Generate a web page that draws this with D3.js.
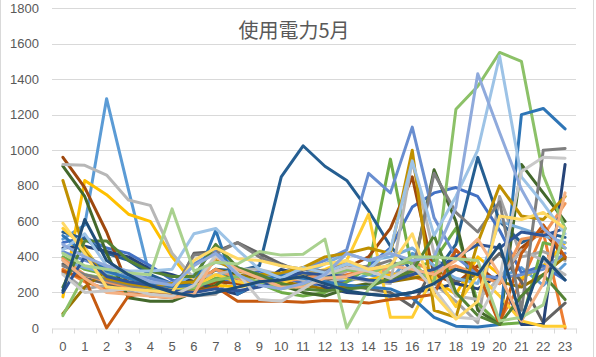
<!DOCTYPE html>
<html><head><meta charset="utf-8">
<script src="https://cdnjs.cloudflare.com/ajax/libs/d3/7.8.5/d3.min.js"></script>
<style>html,body{margin:0;padding:0;background:#fff;}svg{display:block;}</style>
</head><body><div id="chart"></div>
<script>
const title = "使用電力5月";
const hours = d3.range(24).map(String);
const yTicks = [0,200,400,600,800,1000,1200,1400,1600,1800];
const colors = ["#5B9BD5","#ED7D31","#A5A5A5","#FFC000","#4472C4","#70AD47","#255E91","#9E480E","#636363","#997300","#264478","#43682B","#7CAFDD","#F1975A","#B7B7B7","#FFCD33","#698ED0","#8CC168","#2E75B6","#C55A11","#7F7F7F","#BF9000","#2F5597","#548235","#9DC3E6","#F4B183","#C9C9C9","#FFD966","#8FAADC","#A9D18E","#1F4E79"];
const d01 = [500,580,1290,780,280,240,230,330,260,250,230,240,280,260,300,270,420,380,330,300,280,340,240,360];
const d02 = [330,260,220,200,190,180,220,260,280,250,230,250,270,300,330,310,290,250,440,300,40,260,540,0];
const d03 = [310,220,240,210,200,190,180,190,320,300,280,260,270,320,350,300,330,250,150,30,740,400,430,380];
const d04 = [175,830,750,640,600,400,250,240,230,250,260,290,300,280,270,300,310,270,190,400,300,280,350,480];
const d05 = [480,510,450,420,350,270,230,260,280,320,290,250,240,260,350,450,680,760,790,740,550,310,350,270];
const d06 = [400,330,300,260,230,220,220,280,300,250,200,180,200,260,340,950,330,380,560,140,20,30,480,450];
const d07 = [540,500,420,380,300,250,250,330,320,350,850,1025,910,830,660,460,320,300,470,960,600,480,540,510];
const d08 = [960,790,540,230,180,170,200,260,250,240,250,300,320,340,400,560,850,300,250,350,250,450,550,390];
const d09 = [360,280,250,220,190,180,420,430,480,420,360,310,280,240,220,200,120,350,260,300,420,260,30,140];
const d10 = [80,230,320,280,250,220,240,330,300,280,260,240,220,230,250,260,280,300,330,290,260,230,300,400];
const d11 = [450,460,430,400,330,300,260,220,190,250,330,300,230,200,190,180,200,220,250,220,300,20,20,920];
const d12 = [910,740,420,170,150,150,200,240,330,290,240,200,180,220,250,280,300,890,600,100,20,920,760,600];
const d13 = [380,340,310,290,260,240,300,370,340,300,280,300,360,420,380,400,450,350,280,250,600,560,520,480];
const d14 = [390,300,260,230,200,190,250,330,280,250,260,280,300,330,310,340,380,310,350,300,250,500,520,700];
const d15 = [920,915,860,720,690,420,280,300,330,330,300,270,250,290,260,250,940,420,180,160,280,440,380,300];
const d16 = [560,450,280,240,230,220,230,300,260,240,250,300,330,380,640,60,60,300,120,300,180,40,10,10];
const d17 = [430,380,340,300,280,250,360,430,330,280,300,330,380,440,870,760,1130,620,400,300,280,300,330,420];
const d18 = [70,300,280,240,220,200,230,270,290,260,220,240,290,330,300,360,370,250,1230,1360,1550,1500,860,560];
const d19 = [520,420,320,280,250,230,240,550,190,260,300,280,260,240,230,220,170,60,10,5,20,1200,1235,1120];
const d20 = [320,280,0,180,200,190,200,230,150,150,150,145,155,150,140,160,170,190,440,320,20,420,580,400];
const d21 = [350,300,270,240,210,200,410,420,480,400,350,330,320,360,340,380,300,870,650,540,710,100,1000,1010];
const d22 = [830,430,280,250,230,250,260,380,320,300,310,340,400,420,450,420,1000,100,60,480,800,630,610,740];
const d23 = [200,400,290,260,240,210,200,220,210,230,280,310,300,290,270,260,300,330,400,470,450,540,520,560];
const d24 = [230,490,490,380,320,290,290,470,340,300,250,220,210,220,230,280,320,520,200,70,20,180,300,160];
const d25 = [440,530,350,320,320,330,530,560,440,330,280,340,310,360,330,440,940,520,740,1000,1530,850,700,530];
const d26 = [380,280,200,190,180,170,190,400,330,280,230,230,280,290,330,350,330,300,380,500,300,40,250,760];
const d27 = [300,200,210,220,190,180,240,410,310,160,150,220,300,340,320,280,350,220,60,50,280,880,960,955];
const d28 = [590,420,230,220,210,200,380,450,390,380,350,330,360,380,330,350,530,190,50,150,630,610,650,560];
const d29 = [470,400,350,320,260,240,350,420,300,240,220,250,300,420,380,420,380,400,680,1430,1100,780,560,450];
const d30 = [420,350,330,310,300,670,320,370,360,430,410,415,500,0,220,340,400,400,390,380,40,60,130,560];
const d31 = [210,610,380,300,240,200,180,200,230,260,270,290,250,210,190,180,200,250,330,300,470,50,400,270];
const seriesData = [d01,d02,d03,d04,d05,d06,d07,d08,d09,d10,d11,d12,d13,d14,d15,d16,d17,d18,d19,d20,d21,d22,d23,d24,d25,d26,d27,d28,d29,d30,d31];

const W = 596, H = 357;
const m = {left:52, right:20, top:8, bottom:29};
const svg = d3.select("#chart").append("svg").attr("width", W).attr("height", H);
svg.append("rect").attr("x",0.5).attr("y",-1).attr("width",W-3).attr("height",H+2).attr("fill","#fff").attr("stroke","#D9D9D9");

const x = d3.scaleBand().domain(hours).range([m.left, W - m.right]).padding(0);
const y = d3.scaleLinear().domain([0,1800]).range([H - m.bottom, m.top]);

// gridlines
svg.append("g").selectAll("line").data(yTicks.filter(t=>t>0)).join("line")
  .attr("x1", m.left).attr("x2", W - m.right)
  .attr("y1", d=>Math.round(y(d))+0.5).attr("y2", d=>Math.round(y(d))+0.5)
  .attr("stroke","#D9D9D9").attr("stroke-width",1);

// y labels
svg.append("g").selectAll("text").data(yTicks).join("text")
  .attr("x", 39).attr("y", d=>y(d)).attr("dy","0.35em")
  .attr("text-anchor","end").attr("font-family","Liberation Sans, Arial, sans-serif")
  .attr("font-size",13).attr("fill","#595959").text(d=>d);

// x axis
const xAxis = d3.axisBottom(x).tickSize(0).tickPadding(0);
const gx = svg.append("g").attr("transform",`translate(0,${Math.round(y(0))+0.5})`).call(xAxis);
gx.select(".domain").attr("stroke","#D9D9D9");
gx.selectAll("text").attr("y",13).attr("dy","0.71em").attr("font-family","Liberation Sans, Arial, sans-serif").attr("font-size",13).attr("fill","#595959");
const bounds = hours.map(h=>x(h)).concat([x(hours[hours.length-1]) + x.bandwidth()]);
gx.selectAll(".bt").data(bounds).join("line").attr("class","bt")
  .attr("x1",d=>Math.round(d)+0.5).attr("x2",d=>Math.round(d)+0.5).attr("y1",0).attr("y2",5).attr("stroke","#D9D9D9");

// lines
const line = d3.line().x((d,i)=>x(hours[i]) + x.bandwidth()/2).y(d=>y(d));
svg.append("g").selectAll("path").data(seriesData).join("path")
  .attr("d", d=>line(d)).attr("fill","none")
  .attr("stroke",(d,i)=>colors[i]).attr("stroke-width",3)
  .attr("stroke-linejoin","round").attr("stroke-linecap","round");

// title
svg.append("text").attr("x",294).attr("y",38).attr("text-anchor","middle")
  .attr("font-family","Noto Sans CJK JP, sans-serif").attr("font-size",20).attr("fill","#595959").text(title);
</script></body></html>
